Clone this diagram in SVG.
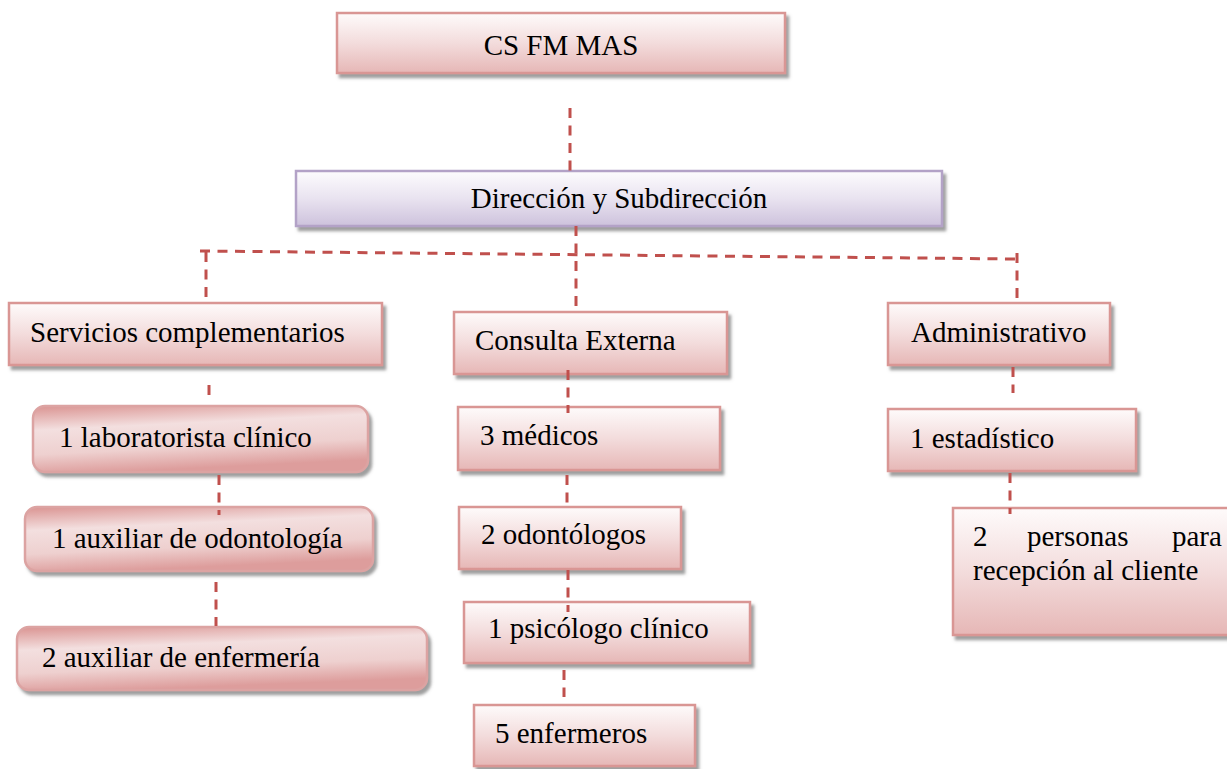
<svg xmlns="http://www.w3.org/2000/svg" width="1227" height="769" viewBox="0 0 1227 769">
  <defs>
    <linearGradient id="gPink" x1="0" y1="0" x2="0" y2="1">
      <stop offset="0" stop-color="#fefbfb"/>
      <stop offset="0.5" stop-color="#f3dcdc"/>
      <stop offset="1" stop-color="#e6b7b6"/>
    </linearGradient>
    <linearGradient id="gLilac" x1="0" y1="0" x2="0" y2="1">
      <stop offset="0" stop-color="#fdfcfe"/>
      <stop offset="0.5" stop-color="#e9e3f0"/>
      <stop offset="1" stop-color="#cdc2dc"/>
    </linearGradient>
    <linearGradient id="gRose" x1="0" y1="0" x2="0.25" y2="1">
      <stop offset="0" stop-color="#da9391"/>
      <stop offset="0.35" stop-color="#f3dfdf"/>
      <stop offset="0.7" stop-color="#eed0cf"/>
      <stop offset="1" stop-color="#dd9d9c"/>
    </linearGradient>
    <filter id="shadow" x="-5%" y="-20%" width="112%" height="150%">
      <feGaussianBlur in="SourceAlpha" stdDeviation="1.5" result="b"/>
      <feOffset in="b" dx="3" dy="4" result="o"/>
      <feFlood flood-color="#7f7f7f" flood-opacity="0.75"/>
      <feComposite in2="o" operator="in" result="s"/>
      <feMerge>
        <feMergeNode in="s"/>
        <feMergeNode in="SourceGraphic"/>
      </feMerge>
    </filter>
  </defs>
  <style>
    .box { fill: url(#gPink); stroke: #d99694; stroke-width: 2.5; filter: url(#shadow); }
    .lilac { fill: url(#gLilac); stroke: #b3a2c7; stroke-width: 2.5; filter: url(#shadow); }
    .round { fill: url(#gRose); stroke: #dca3a2; stroke-width: 2.5; filter: url(#shadow); }
    text { font-family: 'Liberation Serif', 'DejaVu Serif', serif; font-size: 29px; fill: #000; }
    .link { fill: none; stroke: #c0504d; stroke-width: 3; stroke-dasharray: 10 7.5; }
  </style>

  <rect width="1227" height="769" fill="#ffffff"/>

  <!-- top level -->
  <g id="cs-fm-mas">
    <rect class="box" x="337" y="13" width="448" height="60"/>
    <text x="561" y="55" text-anchor="middle" font-family="Liberation Serif, serif">CS FM MAS</text>
  </g>

  <g id="direccion">
    <rect class="lilac" x="296" y="171" width="646" height="55"/>
    <text x="619" y="208" text-anchor="middle" font-family="Liberation Serif, serif">Dirección y Subdirección</text>
  </g>

  <!-- second level -->
  <g id="servicios">
    <rect class="box" x="9" y="303" width="373" height="62"/>
    <text x="30" y="342" font-family="Liberation Serif, serif">Servicios complementarios</text>
  </g>

  <g id="consulta">
    <rect class="box" x="454" y="312" width="273" height="62"/>
    <text x="475" y="350" font-family="Liberation Serif, serif">Consulta Externa</text>
  </g>

  <g id="administrativo">
    <rect class="box" x="888" y="303" width="222" height="62"/>
    <text x="911" y="342" font-family="Liberation Serif, serif">Administrativo</text>
  </g>

  <!-- servicios complementarios staff -->
  <g id="laboratorista">
    <rect class="round" x="33" y="406" width="335" height="66" rx="12"/>
    <text x="59" y="447" font-family="Liberation Serif, serif">1 laboratorista clínico</text>
  </g>

  <g id="aux-odontologia">
    <rect class="round" x="25" y="507" width="348" height="64" rx="12"/>
    <text x="52" y="548" font-family="Liberation Serif, serif">1 auxiliar de odontología</text>
  </g>

  <g id="aux-enfermeria">
    <rect class="round" x="17" y="627" width="410" height="63" rx="12"/>
    <text x="42" y="667" font-family="Liberation Serif, serif">2 auxiliar de enfermería</text>
  </g>

  <!-- consulta externa staff -->
  <g id="medicos">
    <rect class="box" x="458" y="407" width="262" height="63"/>
    <text x="480" y="445" font-family="Liberation Serif, serif">3 médicos</text>
  </g>

  <g id="odontologos">
    <rect class="box" x="459" y="507" width="222" height="62"/>
    <text x="481" y="544" font-family="Liberation Serif, serif">2 odontólogos</text>
  </g>

  <g id="psicologo">
    <rect class="box" x="464" y="602" width="286" height="61"/>
    <text x="488" y="638" font-family="Liberation Serif, serif">1 psicólogo clínico</text>
  </g>

  <g id="enfermeros">
    <rect class="box" x="474" y="705" width="221" height="61"/>
    <text x="495" y="743" font-family="Liberation Serif, serif">5 enfermeros</text>
  </g>

  <!-- administrativo staff -->
  <g id="estadistico">
    <rect class="box" x="888" y="409" width="248" height="62"/>
    <text x="910" y="448" font-family="Liberation Serif, serif">1 estadístico</text>
  </g>

  <g id="recepcion">
    <rect class="box" x="953" y="508" width="285" height="127"/>
    <text y="546" font-family="Liberation Serif, serif"><tspan x="973">2</tspan><tspan x="1027">personas</tspan><tspan x="1172">para</tspan></text>
    <text x="973" y="580" font-family="Liberation Serif, serif">recepción al cliente</text>
  </g>

  <!-- dashed connectors -->
  <g id="connectors">
    <path class="link" d="M570 108 V171"/>
    <path class="link" d="M576 226 V312"/>
    <path class="link" d="M200 251 L1017 259"/>
    <path class="link" d="M206 252 V303"/>
    <path class="link" d="M1017 253 V298"/>

    <path class="link" d="M209 385 V395"/>
    <path class="link" d="M219 475 V515"/>
    <path class="link" d="M216 582 V626"/>

    <path class="link" d="M568 370 V413"/>
    <path class="link" d="M567 475 V510"/>
    <path class="link" d="M568 570 V612"/>
    <path class="link" d="M564 670 V697"/>

    <path class="link" d="M1013 367 V393"/>
    <path class="link" d="M1010 473 V514"/>
  </g>
</svg>
